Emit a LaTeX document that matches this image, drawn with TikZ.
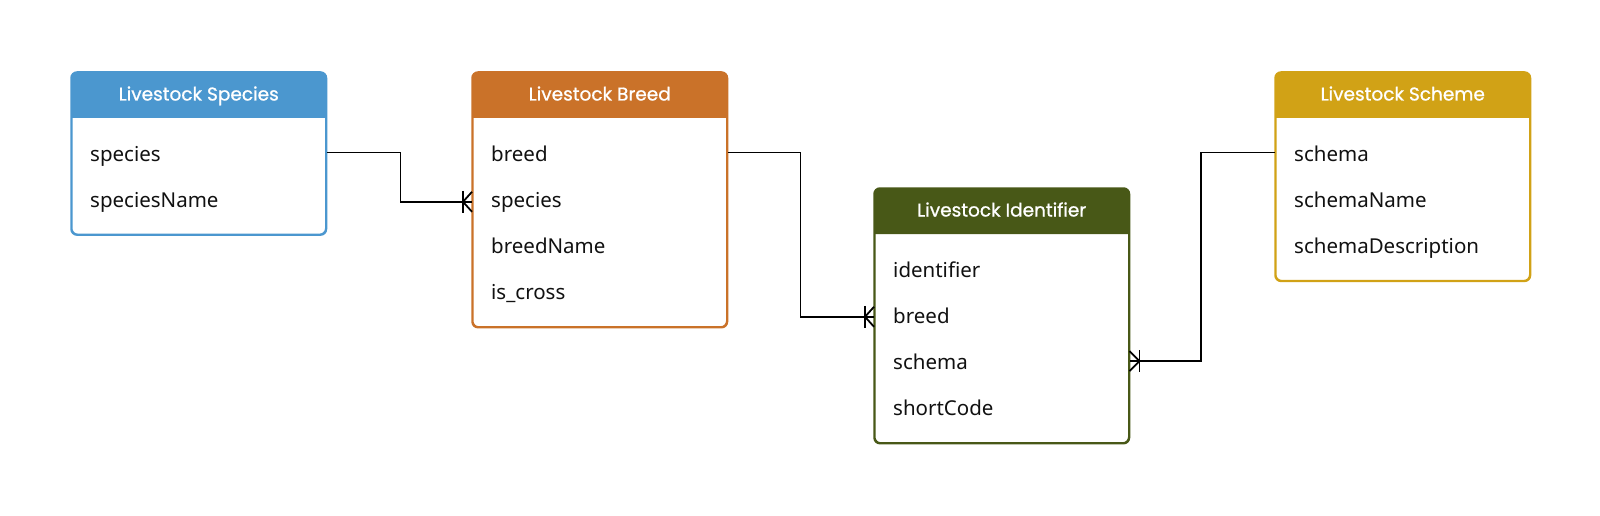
\documentclass[tikz,border=0pt]{standalone}
\usepackage{fontspec}
\setmainfont{Noto Sans}
\newfontfamily\headfont[FakeBold=0.9]{Poppins}
\usetikzlibrary{calc}
\definecolor{cspecies}{HTML}{4B97CF}
\definecolor{cbreed}{HTML}{CA7229}
\definecolor{cident}{HTML}{485817}
\definecolor{cscheme}{HTML}{D1A216}
\definecolor{ctext}{HTML}{111111}
\tikzset{
  entity/.style={draw=#1, line width=1.5pt, rounded corners=6pt, minimum width=254pt, anchor=north west, inner sep=0pt, fill=white},
  headtext/.style={text=white, font=\headfont\fontsize{18.5}{22}\selectfont, inner sep=0pt, anchor=base},
  rowtext/.style={text=ctext, font=\fontsize{20.5}{24}\selectfont, anchor=base west, inner sep=0pt},
  link/.style={draw=black, line width=1.8pt},
  foot/.style={draw=black, line width=1.8pt, line cap=butt},
}
\begin{document}
\begin{tikzpicture}[x=1pt,y=-1pt]
\useasboundingbox (0,0) rectangle (1600,516);
% ---------- entities ----------
% Species
\node[entity=cspecies, minimum height=161.6pt] (sp) at (71,72) {};
\fill[cspecies] ($(sp.north west)+(0,46)$) [rounded corners=6pt] -- (sp.north west) -- (sp.north east) [sharp corners] -- ($(sp.north east)+(0,46)$) -- cycle;
\draw[cspecies, line width=1.5pt, rounded corners=6pt] (sp.north west) rectangle (sp.south east);
\node[headtext] (sph) at ($(sp.north)+(0,28.5)$) {Livestock Species};
\node[rowtext] (sp-r1) at ($(sp.north west)+(19,89)$) {species};
\node[rowtext] (sp-r2) at ($(sp.north west)+(19,135.3)$) {speciesName};
% Breed
\node[entity=cbreed, minimum height=254.2pt] (br) at (472,72) {};
\fill[cbreed] ($(br.north west)+(0,46)$) [rounded corners=6pt] -- (br.north west) -- (br.north east) [sharp corners] -- ($(br.north east)+(0,46)$) -- cycle;
\draw[cbreed, line width=1.5pt, rounded corners=6pt] (br.north west) rectangle (br.south east);
\node[headtext] (brh) at ($(br.north)+(0,28.5)$) {Livestock Breed};
\node[rowtext] (br-r1) at ($(br.north west)+(19,89)$) {breed};
\node[rowtext] (br-r2) at ($(br.north west)+(19,135.3)$) {species};
\node[rowtext] (br-r3) at ($(br.north west)+(19,181.6)$) {breedName};
\node[rowtext] (br-r4) at ($(br.north west)+(19,227.9)$) {is\_cross};
% Identifier
\node[entity=cident, minimum height=254.2pt] (id) at (874,188) {};
\fill[cident] ($(id.north west)+(0,46)$) [rounded corners=6pt] -- (id.north west) -- (id.north east) [sharp corners] -- ($(id.north east)+(0,46)$) -- cycle;
\draw[cident, line width=1.5pt, rounded corners=6pt] (id.north west) rectangle (id.south east);
\node[headtext] (idh) at ($(id.north)+(0,28.5)$) {Livestock Identifier};
\node[rowtext] (id-r1) at ($(id.north west)+(19,89)$) {identifier};
\node[rowtext] (id-r2) at ($(id.north west)+(19,135.3)$) {breed};
\node[rowtext] (id-r3) at ($(id.north west)+(19,181.6)$) {schema};
\node[rowtext] (id-r4) at ($(id.north west)+(19,227.9)$) {shortCode};
% Scheme
\node[entity=cscheme, minimum height=207.9pt] (sc) at (1275,72) {};
\fill[cscheme] ($(sc.north west)+(0,46)$) [rounded corners=6pt] -- (sc.north west) -- (sc.north east) [sharp corners] -- ($(sc.north east)+(0,46)$) -- cycle;
\draw[cscheme, line width=1.5pt, rounded corners=6pt] (sc.north west) rectangle (sc.south east);
\node[headtext] (sch) at ($(sc.north)+(0,28.5)$) {Livestock Scheme};
\node[rowtext] (sc-r1) at ($(sc.north west)+(19,89)$) {schema};
\node[rowtext] (sc-r2) at ($(sc.north west)+(19,135.3)$) {schemaName};
\node[rowtext] (sc-r3) at ($(sc.north west)+(19,181.6)$) {schemaDescription};
% ---------- connectors ----------
\coordinate (s1) at ($(sp.east |- sp-r1.base)+(0,-8.5)$);
\coordinate (s2) at ($(br.east |- br-r1.base)+(0,-8.5)$);
\coordinate (s3) at ($(sc.west |- sc-r1.base)+(0,-8.5)$);
\coordinate (e1) at ($(br.west |- br-r2.base)+(0,-5.5)$);
\coordinate (e2) at ($(id.west |- id-r2.base)+(0,-6.5)$);
\coordinate (e3) at ($(id.east |- id-r3.base)+(0,-8.5)$);
\draw[link] (s1) -- ++(74,0) |- (e1);
\draw[link] (s2) -- ++(73,0) |- (e2);
\draw[link] (s3) -- ++(-74,0) |- (e3);
% crow's feet (one-or-many)
\draw[foot] ($(e1)+(-9,-11)$) -- ++(0,22);
\draw[foot] ($(e1)+(0,-10)$) -- ($(e1)+(-9,0)$) -- ($(e1)+(0,10)$);
\draw[foot] ($(e2)+(-9,-11)$) -- ++(0,22);
\draw[foot] ($(e2)+(0,-10)$) -- ($(e2)+(-9,0)$) -- ($(e2)+(0,10)$);
\draw[foot] ($(e3)+(10,-11)$) -- ++(0,22);
\draw[foot] ($(e3)+(0,-10)$) -- ($(e3)+(10,0)$) -- ($(e3)+(0,10)$);
\end{tikzpicture}
\end{document}
